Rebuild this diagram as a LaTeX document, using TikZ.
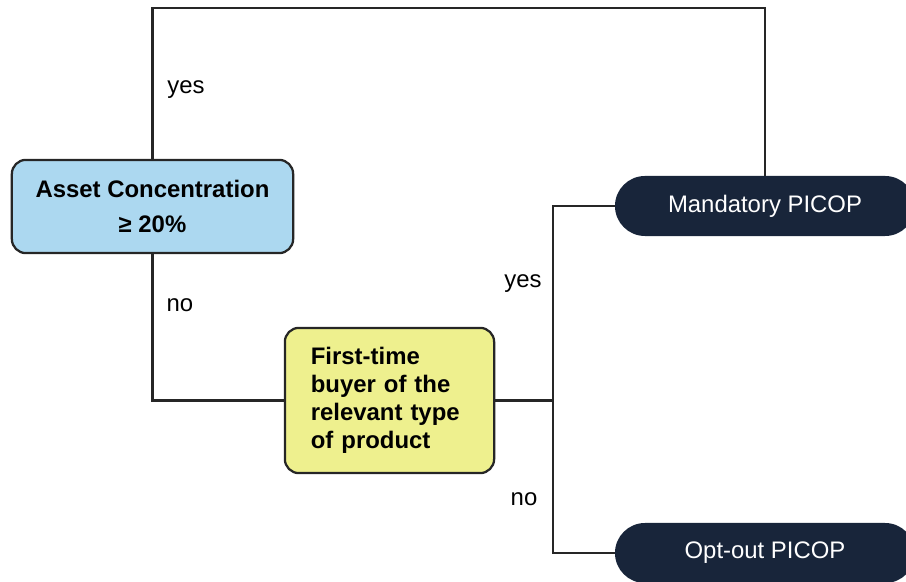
\documentclass[tikz,border=0pt]{standalone}
\usepackage{fontspec}
\setmainfont{Liberation Sans}
\usetikzlibrary{positioning}

\definecolor{boxblue}{RGB}{172,216,240}
\definecolor{boxyellow}{RGB}{238,240,142}
\definecolor{pillnavy}{RGB}{24,37,58}

\begin{document}
\begin{tikzpicture}[x=0.025cm, y=-0.025cm,
    every node/.style={font=\fontsize{17}{20}\selectfont},
    conn/.style={line width=1.5pt, black!85},
    question/.style={draw=black!85, line width=1.6pt, rounded corners=0.35cm},
    outcome/.style={fill=pillnavy, text=white, minimum width=7.5cm, minimum height=1.5cm, rounded corners=0.75cm}]
  \useasboundingbox (0,0) rectangle (906,582);
  \clip (0,0) rectangle (906,582);
  % decision boxes
  \node[question, fill=boxblue, align=center, minimum width=7.03cm, minimum height=2.33cm,
        font=\fontsize{17}{25}\selectfont\bfseries] (asset) at (152.5,206.5) {Asset Concentration\\ ≥ 20\%};
  \node[question, fill=boxyellow, align=left, text width=3.93cm, inner xsep=0.65cm, minimum height=3.63cm,
        font=\fontsize{17}{20}\selectfont\bfseries] (buyer) at (389.5,400.5) {First-time\\ buyer of the\\ relevant type\\ of product};
  % outcomes
  \node[outcome] (mand) at (765,206) {Mandatory PICOP};
  \node[outcome] (optout) at (765,553) {Opt-out PICOP};
  % connectors
  \coordinate (split) at (553,400.5);
  \draw[conn] (asset.north) -- (asset.north |- 0,8) -| (mand.north);
  \draw[conn] (asset.south) |- (buyer.west);
  \draw[conn] (buyer.east) -- (split);
  \draw[conn] (split) |- (mand.west);
  \draw[conn] (split) |- (optout.west);
  % labels
  \node (yesA) at (186,90) {yes};
  \node (noA) at (180,305) {no};
  \node (yesB) at (523,284) {yes};
  \node (noB) at (524,499) {no};
\end{tikzpicture}
\end{document}
